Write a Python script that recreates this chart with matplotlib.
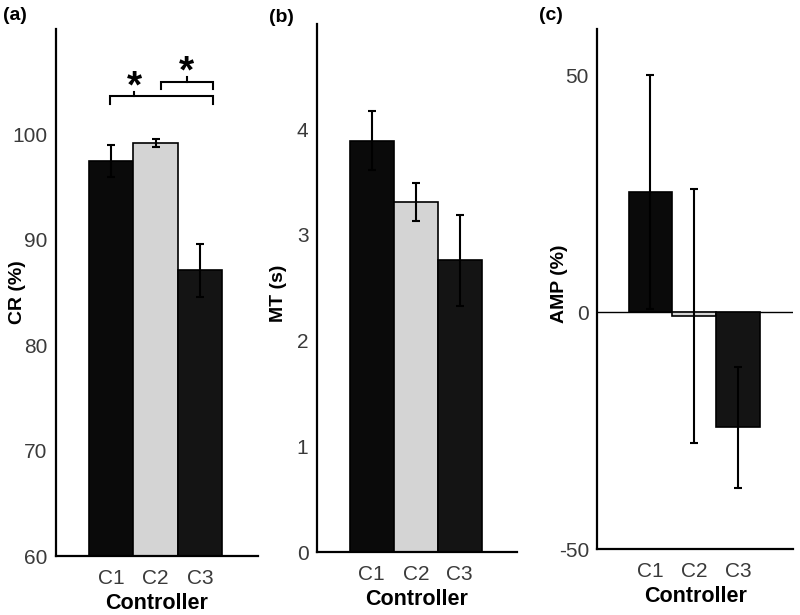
import matplotlib
matplotlib.use("Agg")
import matplotlib.pyplot as plt

plt.rcParams['font.family'] = ['Liberation Sans', 'DejaVu Sans']
plt.rcParams['axes.unicode_minus'] = False

controllers = ["C1", "C2", "C3"]
bar_colors = ["#0a0a0a", "#d4d4d4", "#141414"]

cr_mean = [97.5, 99.2, 87.1]
cr_err = [1.5, 0.4, 2.5]

mt_mean = [3.89, 3.31, 2.76]
mt_err = [0.28, 0.18, 0.43]

amp_mean = [25.4, -0.7, -24.3]
amp_err = [24.7, 26.8, 12.8]

# significance brackets on CR: (left x, right x, tick x, level)
sig_brackets = [(0.98, 3.29, 1.52, 103.6), (2.12, 3.29, 2.70, 105.0)]

TICK_COLOR = "#3a3a3a"


def bar_panel(ax, means, errs, ylabel, ylim, yticks, xlim, label_y=0.5):
    pos = [1, 2, 3]
    ax.bar(pos, means, width=1.0, color=bar_colors, edgecolor="black", linewidth=1.2, zorder=2)
    ax.errorbar(pos, means, yerr=errs, fmt="none", ecolor="black", elinewidth=1.5,
                capsize=3, capthick=1.5, zorder=3)
    ax.set_xlim(*xlim)
    ax.set_ylim(*ylim)
    ax.set_yticks(yticks)
    ax.set_xticks(pos)
    ax.set_xticklabels(controllers)
    ax.tick_params(axis="both", length=0, labelsize=15, colors=TICK_COLOR)
    ax.tick_params(axis="y", pad=6)
    ax.tick_params(axis="x", pad=9)
    for s in ["top", "right"]:
        ax.spines[s].set_visible(False)
    for s in ["left", "bottom"]:
        ax.spines[s].set_linewidth(1.6)
    ax.set_xlabel("Controller", fontsize=15.5, fontweight="bold", labelpad=4)
    ax.set_ylabel(ylabel, fontsize=14, fontweight="bold")
    ax.yaxis.set_label_coords(-0.15, label_y)


fig = plt.figure(figsize=(8, 6.15), dpi=100)

ax_a = fig.add_axes([0.07, 0.0959, 0.2525, 0.8569])
bar_panel(ax_a, cr_mean, cr_err, "CR (%)", (60, 110), [60, 70, 80, 90, 100], (-0.236, 4.30))
for x0, x1, xm, lvl in sig_brackets:
    ax_a.plot([x0, x0, x1, x1], [lvl - 0.7, lvl, lvl, lvl - 0.7], color="black", lw=1.5,
              solid_joinstyle="miter", clip_on=False)
    ax_a.plot([xm, xm], [lvl, lvl + 0.45], color="black", lw=1.5, clip_on=False)
    ax_a.text(xm, lvl - 0.85, "*", ha="center", va="bottom", fontsize=28, fontweight="bold")

ax_b = fig.add_axes([0.3959, 0.1024, 0.2504, 0.8593])
bar_panel(ax_b, mt_mean, mt_err, "MT (s)", (0, 5), [0, 1, 2, 3, 4], (-0.25, 4.30), label_y=0.49)

ax_c = fig.add_axes([0.7466, 0.1073, 0.2446, 0.8463])
bar_panel(ax_c, amp_mean, amp_err, "AMP (%)", (-50, 60), [-50, 0, 50], (-0.21, 4.24), label_y=0.51)
ax_c.axhline(0, color="black", lw=1.0, zorder=1)

fig.text(0.004, 0.974, "(a)", fontsize=14, fontweight="bold", va="center", ha="left")
fig.text(0.336, 0.972, "(b)", fontsize=14, fontweight="bold", va="center", ha="left")
fig.text(0.674, 0.974, "(c)", fontsize=14, fontweight="bold", va="center", ha="left")

fig.savefig("out.png", dpi=100)
